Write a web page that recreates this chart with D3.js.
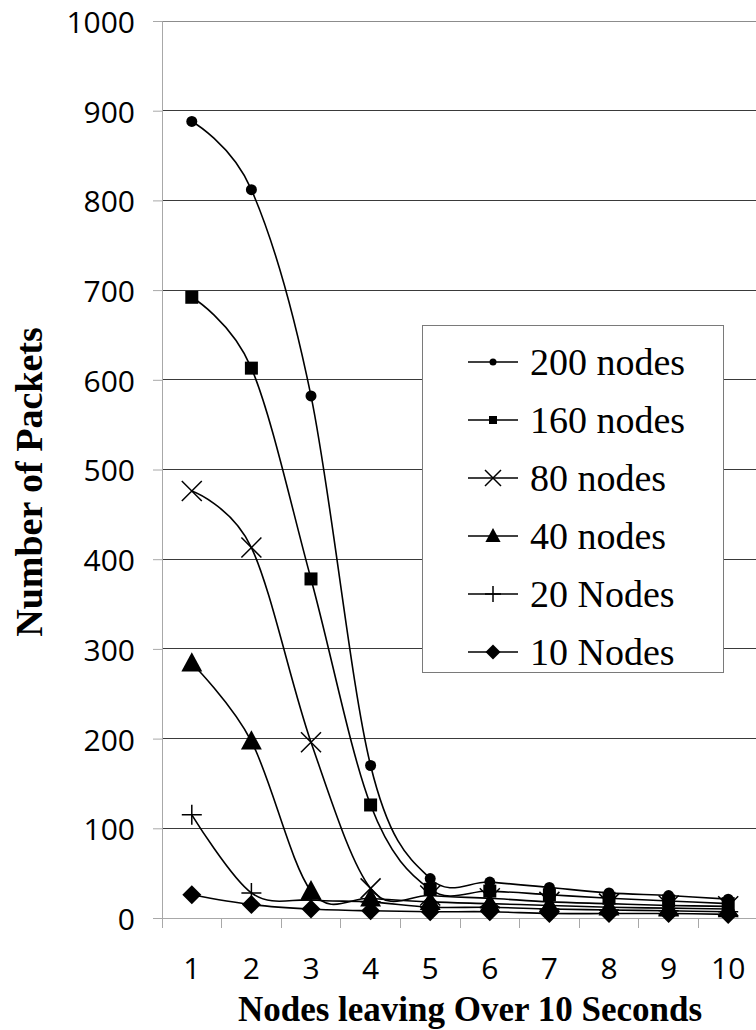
<!DOCTYPE html>
<html><head><meta charset="utf-8">
<script src="https://cdn.jsdelivr.net/npm/d3@7"></script>
<style>body{margin:0;background:#fff}svg{display:block}</style>
</head><body>
<svg id="c" width="756" height="1030"></svg>
<script>
const categories = [1,2,3,4,5,6,7,8,9,10];
const yTicks = [0,100,200,300,400,500,600,700,800,900,1000];
const s200 = [888,812,582,170,44,40,34,28,25,21];
const s160 = [692,613,378,126,32,30,26,22,19,16];
const s80  = [476,413,196,33,25,22,18,16,14,13];
const s40  = [284,197,30,22,18,16,14,12,11,10];
const s20  = [115,28,20,18,12,12,10,9,8,7];
const s10  = [26,15,10,8,7,7,5,5,5,4];
const seriesNames = ["200 nodes","160 nodes","80 nodes","40 nodes","20 Nodes","10 Nodes"];
const seriesVals = [s200,s160,s80,s40,s20,s10];
const markers = ["circle","square","x","triangle","plus","diamond"];

const svg = d3.select("#c");
const L=162, R=758, T=21, B=918;
const x = d3.scaleBand().domain(categories).range([L,R]);
const y = d3.scaleLinear().domain([0,1000]).range([B,T]);

// gridlines
const g = svg.append("g");
g.selectAll("line.grid").data(yTicks.filter(d=>d>0)).join("line")
  .attr("x1",L).attr("x2",756).attr("y1",d=>y(d)).attr("y2",d=>y(d))
  .attr("stroke",d=>d===1000?"#8c8c8c":"#3a3a3a").attr("stroke-width",1).attr("shape-rendering","crispEdges");

// y axis
const ya = svg.append("g").attr("transform",`translate(${L},0)`)
  .call(d3.axisLeft(y).tickValues(yTicks).tickSize(9).tickPadding(18).tickFormat(d3.format("d")));
ya.select(".domain").attr("stroke","#a8a8a8");
ya.selectAll(".tick line").attr("stroke","#a8a8a8");
ya.selectAll("text").attr("font-family","'Open Sans', sans-serif").attr("font-size",30).attr("fill","#000").attr("dy","0.38em");

// x axis
const xa = svg.append("g").attr("transform",`translate(0,${B})`)
  .call(d3.axisBottom(x).tickSize(0).tickPadding(0));
xa.select(".domain").attr("stroke","#a8a8a8");
xa.selectAll("text").attr("font-family","'Open Sans', sans-serif").attr("font-size",30).attr("fill","#000")
  .attr("y",50).attr("dy","0.36em");
const bounds = categories.map(c=>x(c)).concat([R]);
svg.append("g").selectAll("line").data(bounds).join("line")
  .attr("x1",d=>d).attr("x2",d=>d).attr("y1",B).attr("y2",B+10)
  .attr("stroke","#a8a8a8").attr("shape-rendering","crispEdges");

const cx = c => x(c)+x.bandwidth()/2;

function drawMarker(sel, type, sz){
  sel.each(function(){
    const m = d3.select(this);
    if(type==="circle") m.append("circle").attr("r",sz.c).attr("fill","#000");
    else if(type==="square") m.append("rect").attr("x",-sz.s/2).attr("y",-sz.s/2).attr("width",sz.s).attr("height",sz.s).attr("fill","#000");
    else if(type==="x") m.append("path").attr("d",`M${-sz.x},${-sz.x}L${sz.x},${sz.x}M${-sz.x},${sz.x}L${sz.x},${-sz.x}`).attr("stroke","#000").attr("stroke-width",1.5).attr("fill","none");
    else if(type==="triangle") m.append("path").attr("d",`M0,${-sz.t}L${sz.t*0.95},${sz.t*0.75}L${-sz.t*0.95},${sz.t*0.75}Z`).attr("fill","#000");
    else if(type==="plus") m.append("path").attr("d",`M${-sz.p},0L${sz.p},0M0,${-sz.p}L0,${sz.p}`).attr("stroke","#000").attr("stroke-width",1.5).attr("fill","none");
    else if(type==="diamond") m.append("path").attr("d",`M0,${-sz.d}L${sz.d},0L0,${sz.d}L${-sz.d},0Z`).attr("fill","#000");
  });
}

const line = d3.line().x((d,i)=>cx(categories[i])).y(d=>y(d)).curve(d3.curveCardinal.tension(0));
const plot = svg.append("g");
const bigSz = {c:5.5,s:13,x:10,t:11,p:10,d:9.5};
seriesVals.forEach((vals,k)=>{
  plot.append("path").datum(vals).attr("d",line).attr("fill","none").attr("stroke","#000").attr("stroke-width",1.6);
});
seriesVals.forEach((vals,k)=>{
  plot.append("g").selectAll("g").data(vals).join("g")
    .attr("transform",(d,i)=>`translate(${cx(categories[i])},${y(d)})`)
    .call(s=>drawMarker(s,markers[k],bigSz));
});

// legend
const lg = svg.append("g");
lg.append("rect").attr("x",422.5).attr("y",325.5).attr("width",301).attr("height",347)
  .attr("fill","#fff").attr("stroke","#7a7a7a").attr("stroke-width",1);
const smallSz = {c:3.5,s:8,x:8,t:8,p:8,d:7.5};
seriesNames.forEach((name,k)=>{
  const yy = 362 + k*58;
  const row = lg.append("g").attr("transform",`translate(0,${yy})`);
  row.append("line").attr("x1",468).attr("x2",518).attr("y1",0).attr("y2",0).attr("stroke","#000").attr("stroke-width",1.6);
  row.append("g").attr("transform","translate(493,0)").call(s=>drawMarker(s,markers[k],smallSz));
  row.append("text").attr("x",530).attr("y",0).attr("dy","0.35em")
    .attr("font-family","'Liberation Serif', serif").attr("font-size",38).attr("fill","#000").text(name);
});

// axis titles
svg.append("text").attr("x",470).attr("y",1021).attr("text-anchor","middle")
  .attr("font-family","'Liberation Serif', serif").attr("font-weight","bold").attr("font-size",35).text("Nodes leaving Over 10 Seconds");
svg.append("text").attr("transform","translate(42,482) rotate(-90)").attr("text-anchor","middle")
  .attr("font-family","'Liberation Serif', serif").attr("font-weight","bold").attr("font-size",38).text("Number of Packets");
</script>
</body></html>
